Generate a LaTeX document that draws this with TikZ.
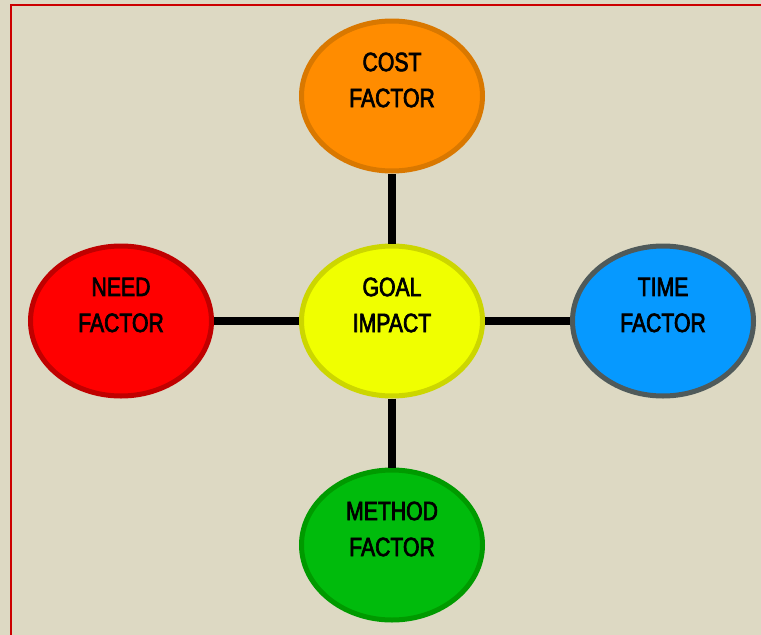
\documentclass[tikz,border=0pt]{standalone}
\usepackage{fontspec}
\setmainfont{Liberation Sans}[FakeStretch=0.8,FakeBold=2.6]
\usetikzlibrary{shapes.geometric,calc}
\definecolor{bg}{HTML}{DDD9C3}
\definecolor{frame}{HTML}{CC0000}
\definecolor{costfill}{HTML}{FF8C00}
\definecolor{costline}{HTML}{D97800}
\definecolor{needfill}{HTML}{FF0000}
\definecolor{needline}{HTML}{C00000}
\definecolor{goalfill}{HTML}{F0FF00}
\definecolor{goalline}{HTML}{CCD600}
\definecolor{timefill}{HTML}{0699FF}
\definecolor{timeline}{HTML}{4F5A5A}
\definecolor{methfill}{HTML}{00BB0C}
\definecolor{methline}{HTML}{009A00}
\begin{document}
\begin{tikzpicture}[x=1pt,y=-1pt,
  oval/.style={ellipse,draw,line width=5pt,minimum width=181pt,minimum height=150pt,inner sep=0pt},
  lbl/.style={align=center,inner sep=0pt,font=\fontsize{26.5}{36}\selectfont,text=black},
  link/.style={line width=7.5pt,draw=black}]
\useasboundingbox (0,0) rectangle (761,635);
\fill[bg] (0,0) rectangle (761,635);
\draw[frame,line width=2pt] (11,640) -- (11,5) -- (766,5);
\node[oval,fill=costfill,draw=costline] (cost) at (392,96) {};
\node[oval,fill=needfill,draw=needline] (need) at (121,321) {};
\node[oval,fill=goalfill,draw=goalline] (goal) at (392,321) {};
\node[oval,fill=timefill,draw=timeline] (time) at (663,321) {};
\node[oval,fill=methfill,draw=methline] (meth) at (392,545) {};
\draw[link] (goal) -- (cost);
\draw[link] (goal) -- (need);
\draw[link] (goal) -- (time);
\draw[link] (goal) -- (meth);
\node[lbl] (costt) at ($(cost)+(0,-16)$) {COST\\FACTOR};
\node[lbl] (needt) at ($(need)+(0,-16)$) {NEED\\FACTOR};
\node[lbl] (goalt) at ($(goal)+(0,-16)$) {GOAL\\IMPACT};
\node[lbl] (timet) at ($(time)+(0,-16)$) {TIME\\FACTOR};
\node[lbl] (metht) at ($(meth)+(0,-16)$) {METHOD\\FACTOR};
\end{tikzpicture}
\end{document}
